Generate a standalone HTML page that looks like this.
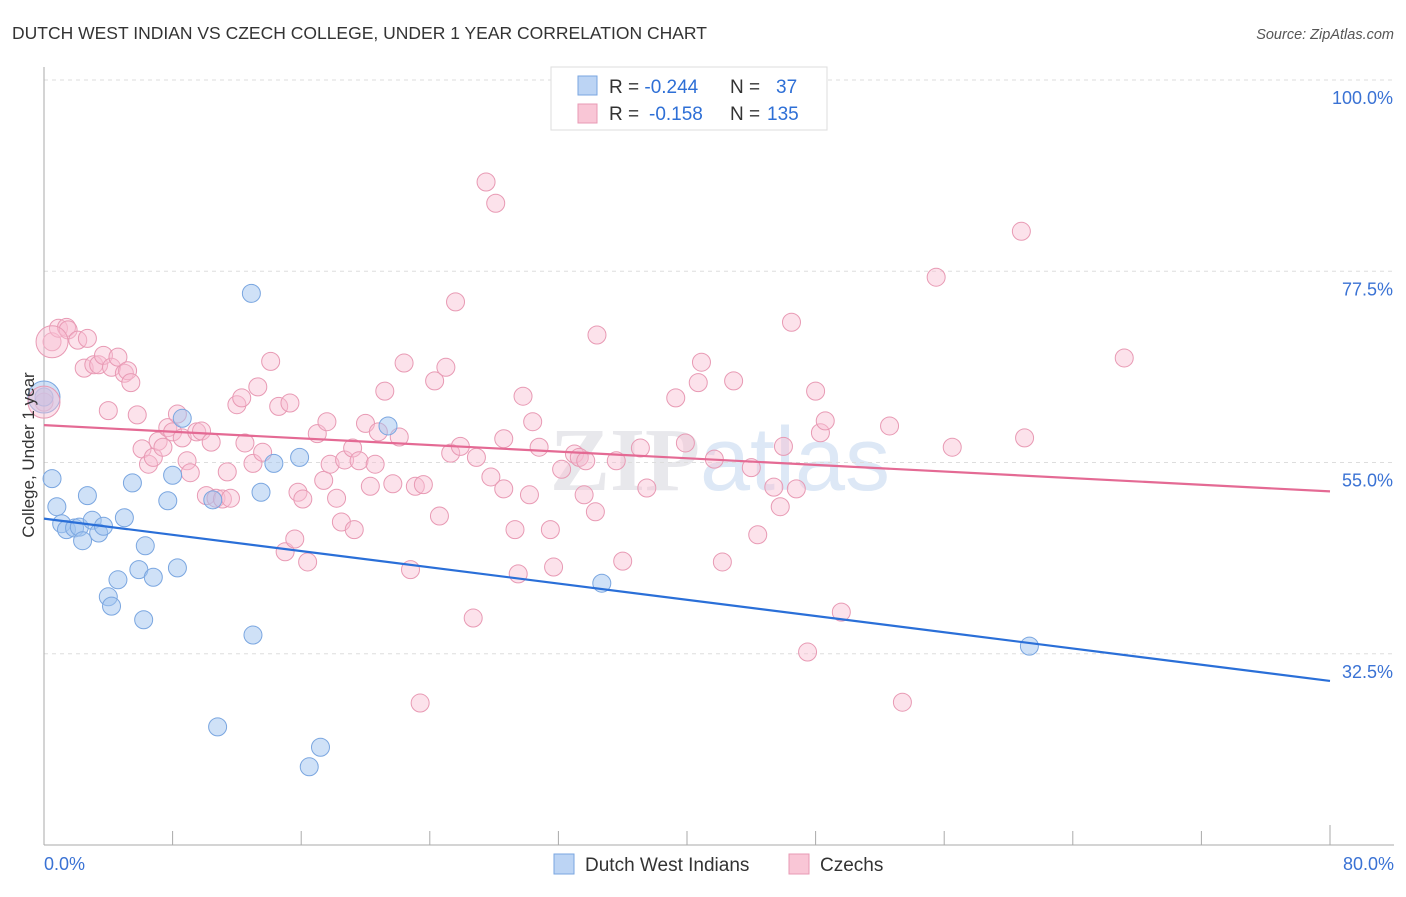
<!DOCTYPE html>
<html><head><meta charset="utf-8"><style>
body{margin:0;background:#fff;font-family:"Liberation Sans",sans-serif;}
</style></head><body>
<svg id="chart" width="1406" height="892" xmlns="http://www.w3.org/2000/svg" style="font-family:'Liberation Sans',sans-serif">
<text x="12" y="39" font-size="17.5" fill="#333">DUTCH WEST INDIAN VS CZECH COLLEGE, UNDER 1 YEAR CORRELATION CHART</text>
<text x="1394" y="39" font-size="14.5" fill="#555" text-anchor="end" font-style="italic">Source: ZipAtlas.com</text>
<text x="720" y="490" font-size="90" fill="#e8e8ec" text-anchor="middle" font-family="Liberation Serif" font-weight="bold">ZIP<tspan fill="#dde8f6" font-family="Liberation Sans" font-weight="normal">atlas</tspan></text>
<g id="grid"></g>
<g id="axes"></g>
<g id="pts"></g>
<g id="trends"></g>
<text transform="translate(34,455) rotate(-90)" font-size="17" fill="#333" text-anchor="middle">College, Under 1 year</text>
<g>
<rect x="551" y="67" width="276" height="63" fill="#fff" stroke="#ddd"/>
<rect x="578" y="76" width="19" height="19" fill="#bcd4f4" stroke="#7aa6e0"/>
<rect x="578" y="104" width="19" height="19" fill="#f9c6d6" stroke="#e89ab4"/>
<text x="609" y="93" font-size="19" fill="#333">R = <tspan fill="#2e6fd6">-0.244</tspan><tspan x="730">N = </tspan><tspan x="776" fill="#2e6fd6">37</tspan></text>
<text x="609" y="120" font-size="19" fill="#333">R = <tspan x="649" fill="#2e6fd6">-0.158</tspan><tspan x="730">N = </tspan><tspan x="767" fill="#2e6fd6">135</tspan></text>
</g>
<g>
<rect x="554" y="854" width="20" height="20" fill="#bcd4f4" stroke="#7aa6e0"/>
<text x="585" y="871" font-size="19" fill="#333">Dutch West Indians</text>
<rect x="789" y="854" width="20" height="20" fill="#f9c6d6" stroke="#e89ab4"/>
<text x="820" y="871" font-size="19" fill="#333">Czechs</text>
</g>
</svg>
<script>
const yTicks=[100,77.5,55,32.5];
const yTickLabels=["100.0%","77.5%","55.0%","32.5%"];
const xTickLabels=["0.0%","80.0%"];
const blueX=[0,0.5,0.8,1.1,1.4,1.9,2.2,2.4,2.7,3.0,3.4,3.7,4.0,4.2,4.6,5.0,5.5,5.9,6.2,6.3,6.8,7.7,8.0,8.3,8.6,10.5,10.8,12.9,13.0,13.5,14.3,15.9,16.5,17.2,21.4,34.7,61.3];
const blueY=[62.7,53.1,49.8,47.8,47.1,47.3,47.4,45.8,51.1,48.2,46.7,47.5,39.2,38.1,41.2,48.5,52.6,42.4,36.5,45.2,41.5,50.5,53.5,42.6,60.2,50.6,23.9,74.9,34.7,51.5,54.9,55.6,19.2,21.5,59.3,40.8,33.4];
const pinkX=[0.5,0,0.9,1.4,1.5,2.1,2.5,2.7,3.1,3.4,3.7,4.0,4.2,4.6,5.0,5.2,5.4,5.8,6.1,6.5,6.8,7.1,7.4,7.7,8.0,8.3,8.6,8.9,9.1,9.5,9.8,10.1,10.4,10.7,11.1,11.4,11.6,12.0,12.3,12.5,13.0,13.3,13.6,14.1,14.6,15.0,15.3,15.6,15.8,16.1,16.4,17.0,17.4,17.6,17.8,18.2,18.5,18.7,19.2,19.3,19.6,20.0,20.3,20.6,20.8,21.2,21.7,22.1,22.4,22.8,23.1,23.4,23.6,24.3,24.6,25.0,25.3,25.6,25.9,26.7,26.9,27.5,27.8,28.1,28.6,28.6,29.3,29.5,29.8,30.2,30.4,30.8,31.5,31.7,32.2,33.0,33.3,33.6,33.7,34.3,34.4,35.6,36.0,37.1,37.5,39.3,39.9,40.7,40.9,41.7,42.2,42.9,44.0,44.4,45.4,45.8,46.0,46.5,46.8,48.0,48.3,48.6,49.6,47.5,52.6,53.4,55.5,56.5,60.8,61.0,67.2];
const pinkY=[69.2,62.1,70.8,70.9,70.6,69.4,66.1,69.6,66.5,66.5,67.6,61.1,66.2,67.4,65.5,65.8,64.4,60.6,56.6,54.8,55.6,57.5,56.8,59.1,58.6,60.7,57.9,55.2,53.8,58.6,58.7,51.1,57.4,50.8,50.7,53.9,50.8,61.8,62.6,57.3,54.9,63.9,56.2,66.9,61.6,44.5,62.0,46.0,51.5,50.7,43.3,58.4,52.9,59.8,54.8,50.8,48.0,55.3,56.7,47.1,55.2,59.6,52.2,54.8,58.6,63.4,52.5,58.0,66.7,42.4,52.2,26.7,52.4,64.6,48.7,66.2,56.1,73.9,56.9,36.7,55.6,88.0,53.3,85.5,57.8,51.9,47.1,41.9,62.8,51.2,59.8,56.8,47.1,42.7,54.2,56.0,55.6,51.2,55.2,49.2,70.0,55.2,43.4,56.7,52.0,62.6,57.3,64.4,66.8,55.4,43.3,64.6,54.4,46.5,52.1,49.8,56.9,71.5,51.9,63.4,58.5,59.9,37.4,32.7,59.3,26.8,76.8,56.8,82.2,57.9,67.3];
const bigPoints=[[0,62.7,'b'],[0,62.1,'p'],[0.5,69.2,'p']];
const blueTrend=[48.4,29.3];
const pinkTrend=[59.4,51.6];
const NS="http://www.w3.org/2000/svg";
const xs=v=>44+v*(1330-44)/80;
const ys=v=>845-(v-10)*(845-80)/90;
function mk(tag,attrs,parent){const e=document.createElementNS(NS,tag);for(const k in attrs)e.setAttribute(k,attrs[k]);parent.appendChild(e);return e;}
const grid=document.getElementById('grid'),axes=document.getElementById('axes'),pts=document.getElementById('pts'),tr=document.getElementById('trends');
yTicks.forEach((t,i)=>{
 const l=mk('line',{x1:44,x2:1394,y1:ys(t),y2:ys(t),stroke:'#ddd','stroke-dasharray':'4,4'},grid);
 
 
 const tx=mk('text',{x:1393,y:ys(t)+24,'font-size':18,fill:'#3a72d4','text-anchor':'end'},axes);
 tx.textContent=yTickLabels[i];
 
 
});
const ya=mk('line',{x1:44,x2:44,y1:67,y2:845,stroke:'#aaa'},axes);


const xa=mk('line',{x1:44,x2:1394,y1:845,y2:845,stroke:'#aaa'},axes);


for(let i=0;i<=10;i++){const t=mk('line',{x1:xs(i*8),x2:xs(i*8),y1:i==10?825:831,y2:845,stroke:'#aaa'},axes);
 
 }
[[0,'start',44],[80,'end',1394]].forEach((a,i)=>{const t=mk('text',{x:a[2],y:870,'font-size':18,fill:'#3a72d4','text-anchor':a[1]},axes);t.textContent=xTickLabels[i];
 
 });
function dot(x,y,c,r){const col=c=='b'?['rgba(160,196,240,0.5)','#7aa6e0']:['rgba(248,190,210,0.45)','#e89ab4'];
 const e=mk('circle',{cx:xs(x),cy:ys(y),r:r,fill:col[0],stroke:col[1],'stroke-width':1},pts);
 
 }
pinkX.forEach((x,i)=>dot(x,pinkY[i],'p',9));
blueX.forEach((x,i)=>dot(x,blueY[i],'b',9));
bigPoints.forEach(p=>dot(p[0],p[1],p[2],16));
const bl=mk('line',{x1:xs(0),y1:ys(blueTrend[0]),x2:xs(80),y2:ys(blueTrend[1]),stroke:'#2a6fd8','stroke-width':2.2},tr);


const pl=mk('line',{x1:xs(0),y1:ys(pinkTrend[0]),x2:xs(80),y2:ys(pinkTrend[1]),stroke:'#e46a94','stroke-width':2.2},tr);


</script>
</body></html>
